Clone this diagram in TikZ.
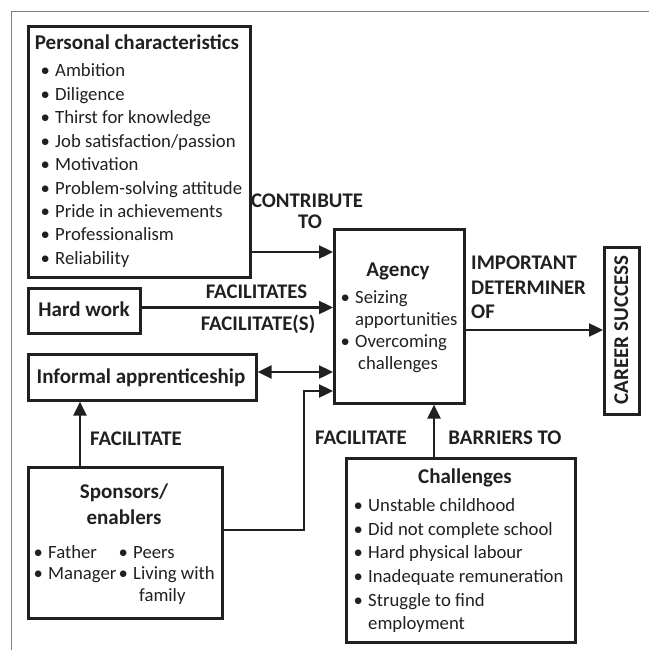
\documentclass[tikz,border=0pt]{standalone}
\usepackage{fontspec}
\setmainfont{Carlito}
\usetikzlibrary{arrows.meta}
\definecolor{ink}{RGB}{35,31,32}
\newcommand\bl{\makebox[14.5pt][l]{\textbullet}}
\begin{document}
\begin{tikzpicture}[x=1pt,y=-1pt,
  box/.style={draw=ink, line width=2.6pt, inner sep=0pt, anchor=north west},
  conn/.style={draw=ink, line width=2.4pt, -{Triangle[length=14pt,width=13pt]}},
  biconn/.style={draw=ink, line width=2.4pt, {Triangle[length=14pt,width=13pt]}-{Triangle[length=14pt,width=13pt]}},
  hd/.style={font=\fontsize{21}{23}\selectfont\bfseries, text=ink, inner sep=0pt, anchor=base},
  lbl/.style={font=\fontsize{20.8}{23}\selectfont\bfseries, text=ink, inner sep=0pt, anchor=base},
  tx/.style={font=\fontsize{18.7}{23}\selectfont, text=ink, inner sep=0pt, anchor=base west},
  frame/.style={draw=black!50, line width=1.4pt},
]
\useasboundingbox (0,0) rectangle (649,650);
% outer frame (top and left edges only)
\coordinate (fa) at (649,11.5);
\coordinate (fb) at (11.5,11.5);
\coordinate (fc) at (11.5,650);
\draw[frame] (fa) -- (fb) -- (fc);

% boxes
\node[box, minimum width=222pt, minimum height=251pt] (pc) at (27,25) {};
\node[box, minimum width=112pt, minimum height=45pt] (hw) at (27,287) {};
\node[box, minimum width=228pt, minimum height=46pt] (ia) at (27,353) {};
\node[box, minimum width=194pt, minimum height=151pt] (sp) at (27,466) {};
\node[box, minimum width=130pt, minimum height=174pt] (ag) at (333,228) {};
\node[box, minimum width=229pt, minimum height=184pt] (ch) at (345,457) {};
\node[box, minimum width=35pt, minimum height=167pt] (cs) at (603,246) {};

% Personal characteristics
\node[hd] (pch) at (137,50) {Personal characteristics};
\node[tx] (pc1) at (40.5,77) {\bl Ambition};
\node[tx] (pc2) at (40.5,100.4) {\bl Diligence};
\node[tx] (pc3) at (40.5,123.8) {\bl Thirst for knowledge};
\node[tx] (pc4) at (40.5,147.2) {\bl Job satisfaction/passion};
\node[tx] (pc5) at (40.5,170.6) {\bl Motivation};
\node[tx] (pc6) at (40.5,194) {\bl Problem-solving attitude};
\node[tx] (pc7) at (40.5,217.4) {\bl Pride in achievements};
\node[tx] (pc8) at (40.5,240.8) {\bl Professionalism};
\node[tx] (pc9) at (40.5,264.2) {\bl Reliability};

% Hard work, Informal apprenticeship
\node[hd] (hwt) at (84,316) {Hard work};
\node[hd] (iat) at (141,383) {Informal apprenticeship};

% Sponsors
\node[hd] (spa) at (124,498) {Sponsors/};
\node[hd] (spb) at (124,524) {enablers};
\node[tx] (sp1) at (33.5,558) {\bl Father};
\node[tx] (sp2) at (118.5,558) {\bl Peers};
\node[tx] (sp3) at (33.5,579.5) {\bl Manager};
\node[tx] (sp4) at (118.5,579.5) {\bl Living with};
\node[tx] (sp5) at (139,601) {family};

% Agency
\node[hd] (agt) at (398,276) {Agency};
\node[tx] (ag1) at (340.5,303) {\bl Seizing};
\node[tx] (ag2) at (355,325) {apportunities};
\node[tx] (ag3) at (340.5,347) {\bl Overcoming};
\node[tx] (ag4) at (358,369) {challenges};

% Challenges
\node[hd] (cht) at (465,483) {Challenges};
\node[tx] (ch1) at (353.5,511) {\bl Unstable childhood};
\node[tx] (ch2) at (353.5,535) {\bl Did not complete school};
\node[tx] (ch3) at (353.5,558.5) {\bl Hard physical labour};
\node[tx] (ch4) at (353.5,582) {\bl Inadequate remuneration};
\node[tx] (ch5) at (353.5,606) {\bl Struggle to find};
\node[tx] (ch6) at (368,629) {employment};

% Career success
\node[hd, rotate=90] (cst) at (628,330) {CAREER SUCCESS};

% connector labels
\node[lbl] (l1a) at (307,207) {CONTRIBUTE};
\node[lbl] (l1b) at (310,228) {TO};
\node[lbl] (l2) at (256.5,298) {FACILITATES};
\node[lbl] (l3) at (258,330) {FACILITATE(S)};
\node[lbl] (l4) at (136,445) {FACILITATE};
\node[lbl] (l5) at (361,444) {FACILITATE};
\node[lbl] (l6) at (505,444) {BARRIERS TO};
\node[lbl, anchor=base west] (l7a) at (471,269) {IMPORTANT};
\node[lbl, anchor=base west] (l7b) at (471,294) {DETERMINER};
\node[lbl, anchor=base west] (l7c) at (471,318) {OF};

% connectors
\draw[conn] (pc.east |- 0,252) -- (ag.west |- 0,252);
\draw[conn] (hw.east |- 0,307.5) -- (ag.west |- 0,307.5);
\draw[biconn] (ia.east |- 0,372) -- (ag.west |- 0,372);
\coordinate (bend) at (304,391);
\draw[conn] (sp.east |- 0,530) -| (bend) -- (ag.west |- bend);
\draw[conn] (sp.north -| 80,0) -- (ia.south -| 80,0);
\draw[conn] (ch.north -| 434,0) -- (ag.south -| 434,0);
\draw[conn] (ag.east |- 0,330) -- (cs.west |- 0,330);
\end{tikzpicture}
\end{document}
